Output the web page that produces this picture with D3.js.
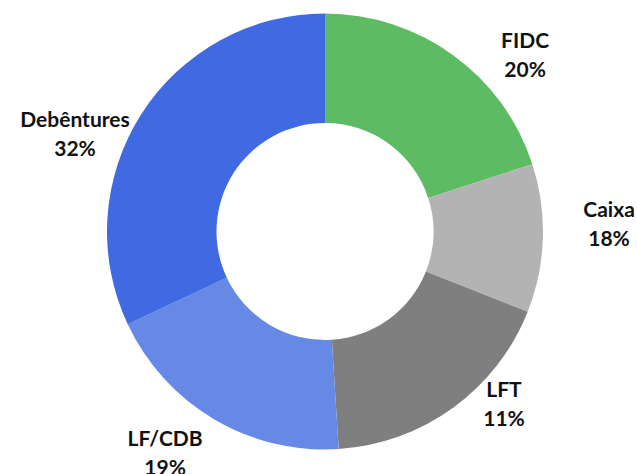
<!DOCTYPE html>
<html>
<head>
<meta charset="utf-8">
<script src="https://cdn.jsdelivr.net/npm/d3@7"></script>
<style>
  html, body { margin: 0; padding: 0; background: #fff; }
  svg { display: block; }
</style>
</head>
<body>
<div id="chart"></div>
<script>
// slice data, clockwise from 12 o'clock
const categories = ['FIDC', 'Caixa', 'LFT', 'LF/CDB', 'Debêntures'];
const shares = [20, 11, 18, 19, 32];
// label text as printed on the original chart
const labelPct = ['20%', '18%', '11%', '19%', '32%'];
const colors = ['#5DBB63', '#B3B3B3', '#7F7F7F', '#6589E4', '#4169E1'];

// label placement: first-line baseline (degrees clockwise from top, distance from centre)
const labelAngle = [47.5, 87.1, 132.75, 216.7, 292.7];
const labelDist = [271.4, 284.4, 243.8, 267.6, 271];

const width = 637;
const height = 474;
const cx = 325;
const cy = 231.5;
const outerR = 218;
const innerR = 108.5;
const lineGap = 29;

const svg = d3
  .select('#chart')
  .append('svg')
  .attr('width', width)
  .attr('height', height);

const g = svg.append('g').attr('transform', `translate(${cx},${cy})`);

const pie = d3.pie().sort(null).value((d) => d);
const arc = d3.arc().innerRadius(innerR).outerRadius(outerR);

g.selectAll('path.slice')
  .data(pie(shares))
  .enter()
  .append('path')
  .attr('class', 'slice')
  .attr('d', arc)
  .attr('fill', (d, i) => colors[i]);

const labels = g
  .selectAll('text.label')
  .data(categories)
  .enter()
  .append('text')
  .attr('class', 'label')
  .attr('text-anchor', 'middle')
  .attr('font-family', 'Lato, "Open Sans", sans-serif')
  .attr('font-weight', 'bold')
  .attr('font-size', '21px')
  .attr('fill', '#111')
  .attr('transform', (d, i) => {
    const a = (labelAngle[i] * Math.PI) / 180;
    const x = labelDist[i] * Math.sin(a);
    const y = -labelDist[i] * Math.cos(a);
    return `translate(${x},${y})`;
  });

labels.append('tspan').attr('x', 0).attr('y', 0).text((d) => d);
labels
  .append('tspan')
  .attr('x', 0)
  .attr('y', lineGap)
  .text((d, i) => labelPct[i]);
</script>
</body>
</html>
